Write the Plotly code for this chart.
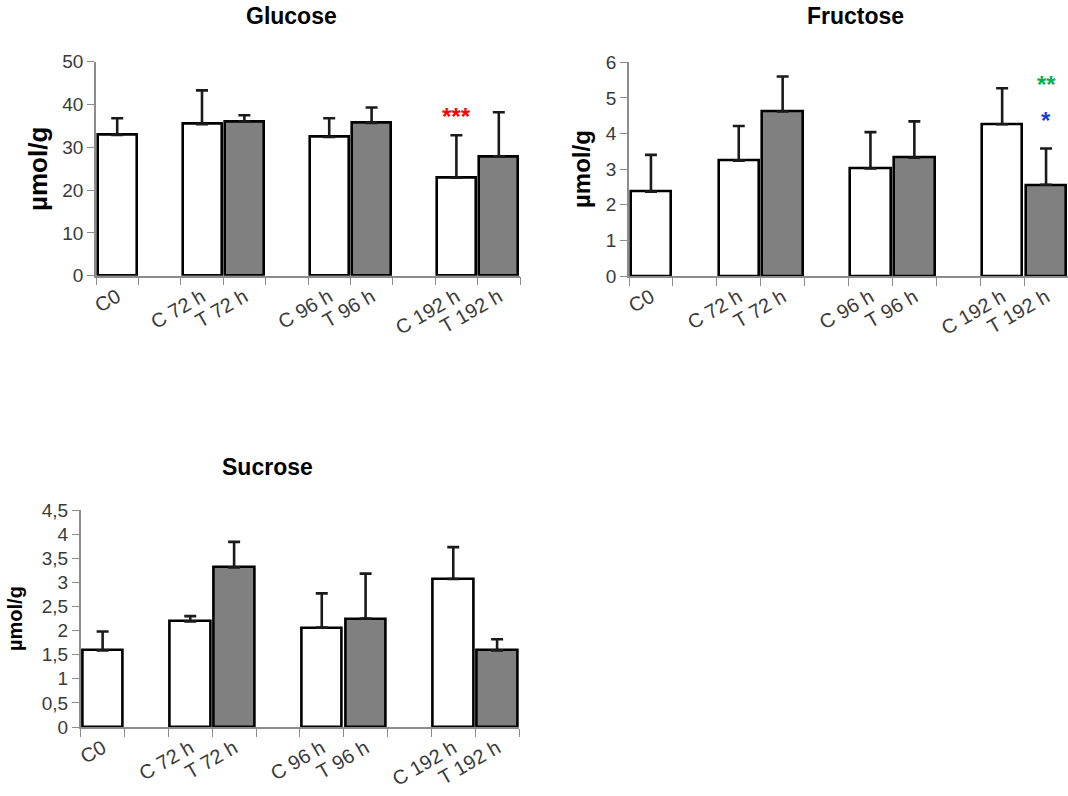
import plotly.graph_objects as go

categories = ["C0", "g1", "C 72 h", "T 72 h", "g2", "C 96 h", "T 96 h", "g3", "C 192 h", "T 192 h"]
tick_text = ["C0", "", "C 72 h", "T 72 h", "", "C 96 h", "T 96 h", "", "C 192 h", "T 192 h"]

control_cats = ["C0", "C 72 h", "C 96 h", "C 192 h"]
treated_cats = ["T 72 h", "T 96 h", "T 192 h"]

glucose_c = [32.9, 35.4, 32.4, 22.9]
glucose_c_err = [3.9, 7.9, 4.4, 9.9]
glucose_t = [36.0, 35.7, 27.9]
glucose_t_err = [1.5, 3.6, 10.3]

fructose_c = [2.37, 3.24, 3.02, 4.26]
fructose_c_err = [1.03, 0.97, 1.02, 1.01]
fructose_t = [4.62, 3.32, 2.56]
fructose_t_err = [0.98, 1.02, 1.02]

sucrose_c = [1.59, 2.19, 2.06, 3.07]
sucrose_c_err = [0.39, 0.11, 0.71, 0.66]
sucrose_t = [3.31, 2.25, 1.59]
sucrose_t_err = [0.53, 0.93, 0.23]

sucrose_tickvals = [0, 0.5, 1, 1.5, 2, 2.5, 3, 3.5, 4, 4.5]
sucrose_ticktext = ["0", "0,5", "1", "1,5", "2", "2,5", "3", "3,5", "4", "4,5"]

W, H = 1068, 796
FONT = "Liberation Sans, Arial, sans-serif"
TICKCOL = "#3a3a3a"
AXCOL = "#8c8c8c"

fig = go.Figure()

panels = [
    ("x", "y", glucose_c, glucose_c_err, glucose_t, glucose_t_err),
    ("x2", "y2", fructose_c, fructose_c_err, fructose_t, fructose_t_err),
    ("x3", "y3", sucrose_c, sucrose_c_err, sucrose_t, sucrose_t_err),
]

for xa, ya, cv, ce, tv, te in panels:
    fig.add_trace(go.Bar(
        x=control_cats, y=cv, xaxis=xa, yaxis=ya, width=0.92,
        marker=dict(color="white", line=dict(color="black", width=2.6)),
        error_y=dict(type="data", symmetric=False, array=ce, arrayminus=[0] * len(ce),
                     color="#1a1a1a", thickness=2.6, width=6),
        showlegend=False, hoverinfo="skip"))
    fig.add_trace(go.Bar(
        x=treated_cats, y=tv, xaxis=xa, yaxis=ya, width=0.92,
        marker=dict(color="#808080", line=dict(color="black", width=2.6)),
        error_y=dict(type="data", symmetric=False, array=te, arrayminus=[0] * len(te),
                     color="#1a1a1a", thickness=2.6, width=6),
        showlegend=False, hoverinfo="skip"))


def px_x(p):
    return p / W


def px_y(p):
    return 1 - p / H


xcommon = dict(type="category", categoryorder="array", categoryarray=categories,
               tickmode="array", tickvals=categories, ticktext=tick_text,
               tickangle=-30, tickson="boundaries", ticks="outside", ticklen=8,
               tickcolor=AXCOL, showline=True, linecolor=AXCOL, linewidth=1.5,
               showgrid=False, zeroline=False, range=[-0.5, 9.5], automargin=False,
               tickfont=dict(family=FONT, size=20, color=TICKCOL))
ycommon = dict(ticks="outside", ticklen=7, tickcolor=AXCOL, showline=True,
               linecolor=AXCOL, linewidth=1.5, showgrid=False, zeroline=False,
               automargin=False,
               tickfont=dict(family=FONT, size=19, color=TICKCOL))

fig.update_layout(
    width=W, height=H, margin=dict(l=0, r=0, t=0, b=0, autoexpand=False),
    paper_bgcolor="white", plot_bgcolor="white", bargap=0, barmode="overlay",
    xaxis=dict(xcommon, domain=[px_x(96), px_x(520)], anchor="y"),
    yaxis=dict(ycommon, domain=[px_y(275.7), px_y(61.7)], anchor="x",
               range=[0, 50], tickvals=[0, 10, 20, 30, 40, 50]),
    xaxis2=dict(xcommon, domain=[px_x(629), px_x(1068)], anchor="y2"),
    yaxis2=dict(ycommon, domain=[px_y(276), px_y(62.3)], anchor="x2",
                range=[0, 6], tickvals=[0, 1, 2, 3, 4, 5, 6]),
    xaxis3=dict(xcommon, domain=[px_x(80.7), px_x(519)], anchor="y3"),
    yaxis3=dict(ycommon, domain=[px_y(727), px_y(510)], anchor="x3",
                range=[0, 4.5], tickvals=sucrose_tickvals, ticktext=sucrose_ticktext),
)

titles = [("Glucose", 291, 16), ("Fructose", 855, 16), ("Sucrose", 267, 467)]
for t, x, y in titles:
    fig.add_annotation(text=t, x=px_x(x), y=px_y(y), xref="paper", yref="paper",
                       showarrow=False, xanchor="center", yanchor="middle",
                       font=dict(family=FONT, size=23, color="black", weight="bold"))

ytitles = [(38, 169, 26), (581, 169, 24), (15, 619, 20)]
for x, y, s in ytitles:
    fig.add_annotation(text="µmol/g", x=px_x(x), y=px_y(y), xref="paper", yref="paper",
                       showarrow=False, xanchor="center", yanchor="middle", textangle=-90,
                       font=dict(family=FONT, size=s, color="black", weight="bold"))

fig.add_annotation(text="***", x="C 192 h", y=38.9, xref="x", yref="y", showarrow=False,
                   yshift=-7, font=dict(family=FONT, size=24, color="#ff0000", weight="bold"))
fig.add_annotation(text="**", x="T 192 h", y=5.56, xref="x2", yref="y2", showarrow=False,
                   yshift=-7, font=dict(family=FONT, size=24, color="#00b050", weight="bold"))
fig.add_annotation(text="*", x="T 192 h", y=4.55, xref="x2", yref="y2", showarrow=False,
                   yshift=-7, font=dict(family=FONT, size=24, color="#1f3fd0", weight="bold"))

fig.write_html("out.html")
